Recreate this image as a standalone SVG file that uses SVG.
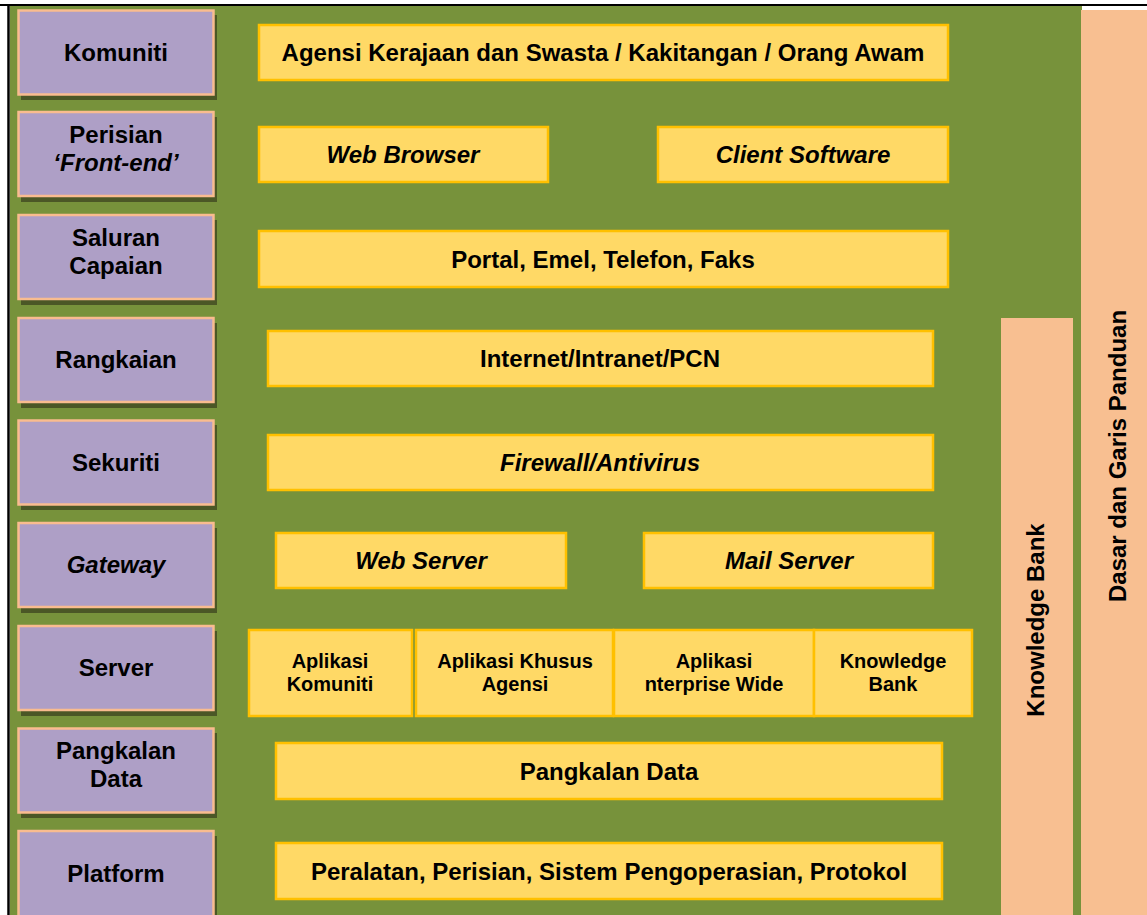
<svg xmlns="http://www.w3.org/2000/svg" width="1147" height="915" viewBox="0 0 1147 915">
<style>
.t{font-family:"Liberation Sans",Arial,sans-serif;font-weight:bold;fill:#000;text-anchor:middle}
.L{font-size:24px}
.S{font-size:20px}
.i{font-style:italic}
.lab{fill:#ae9fc6;stroke:#f9bc8f;stroke-width:2.5}
.sh{fill:#4b5726}
.y{fill:#ffd966;stroke:#ffc000;stroke-width:2.5}
.pe{fill:#f8bf91}
</style>
<rect x="0" y="0" width="1147" height="915" fill="#ffffff"/>
<rect x="10" y="6" width="1072" height="909" fill="#77923b"/>
<line x1="0" y1="5" x2="1147" y2="5" stroke="#000" stroke-width="2"/>
<line x1="8.5" y1="5" x2="8.5" y2="915" stroke="#000" stroke-width="2.5"/>

<g id="dasar">
<rect class="pe" x="1081" y="10" width="66" height="905"/>
<text class="t L" transform="translate(1126,456) rotate(-90)">Dasar dan Garis Panduan</text>
</g>
<g id="kbank-side">
<rect class="pe" x="1001" y="318" width="72" height="597"/>
<text class="t L" transform="translate(1044,620) rotate(-90)">Knowledge Bank</text>
</g>

<g id="lbl-komuniti">
<rect class="sh" x="21" y="15" width="196" height="85"/>
<rect class="lab" x="18.5" y="10.5" width="195" height="84"/>
<text class="t L" x="116" y="61">Komuniti</text>
</g>
<g id="lbl-perisian">
<rect class="sh" x="21" y="117" width="196" height="85"/>
<rect class="lab" x="18.5" y="112" width="195" height="84"/>
<text class="t L" x="116" y="143">Perisian</text>
<text class="t L i" x="116" y="171">‘Front-end’</text>
</g>
<g id="lbl-saluran">
<rect class="sh" x="21" y="220" width="196" height="85"/>
<rect class="lab" x="18.5" y="215" width="195" height="84"/>
<text class="t L" x="116" y="246">Saluran</text>
<text class="t L" x="116" y="274">Capaian</text>
</g>
<g id="lbl-rangkaian">
<rect class="sh" x="21" y="323" width="196" height="85"/>
<rect class="lab" x="18.5" y="318" width="195" height="84"/>
<text class="t L" x="116" y="368">Rangkaian</text>
</g>
<g id="lbl-sekuriti">
<rect class="sh" x="21" y="425" width="196" height="85"/>
<rect class="lab" x="18.5" y="420.5" width="195" height="84"/>
<text class="t L" x="116" y="471">Sekuriti</text>
</g>
<g id="lbl-gateway">
<rect class="sh" x="21" y="528" width="196" height="85"/>
<rect class="lab" x="18.5" y="523" width="195" height="84"/>
<text class="t L i" x="116" y="573">Gateway</text>
</g>
<g id="lbl-server">
<rect class="sh" x="21" y="631" width="196" height="85"/>
<rect class="lab" x="18.5" y="626" width="195" height="84"/>
<text class="t L" x="116" y="676">Server</text>
</g>
<g id="lbl-pangkalan">
<rect class="sh" x="21" y="733" width="196" height="85"/>
<rect class="lab" x="18.5" y="728.5" width="195" height="84"/>
<text class="t L" x="116" y="759">Pangkalan</text>
<text class="t L" x="116" y="787">Data</text>
</g>
<g id="lbl-platform">
<rect class="sh" x="21" y="836" width="196" height="85"/>
<rect class="lab" x="18.5" y="831" width="195" height="95"/>
<text class="t L" x="116" y="882">Platform</text>
</g>

<g id="b-komuniti">
<rect class="y" x="259" y="25" width="689" height="55"/>
<text class="t L" x="603" y="61">Agensi Kerajaan dan Swasta / Kakitangan / Orang Awam</text>
</g>
<g id="b-webbrowser">
<rect class="y" x="259" y="127" width="289" height="55"/>
<text class="t L i" x="403" y="163">Web Browser</text>
</g>
<g id="b-client">
<rect class="y" x="658" y="127" width="290" height="55"/>
<text class="t L i" x="803" y="163">Client Software</text>
</g>
<g id="b-portal">
<rect class="y" x="259" y="231" width="689" height="56"/>
<text class="t L" x="603" y="268">Portal, Emel, Telefon, Faks</text>
</g>
<g id="b-internet">
<rect class="y" x="268" y="331" width="665" height="55"/>
<text class="t L" x="600" y="367">Internet/Intranet/PCN</text>
</g>
<g id="b-firewall">
<rect class="y" x="268" y="435" width="665" height="55"/>
<text class="t L i" x="600" y="471">Firewall/Antivirus</text>
</g>
<g id="b-webserver">
<rect class="y" x="276" y="533" width="290" height="55"/>
<text class="t L i" x="421" y="569">Web Server</text>
</g>
<g id="b-mailserver">
<rect class="y" x="644" y="533" width="289" height="55"/>
<text class="t L i" x="789" y="569">Mail Server</text>
</g>
<g id="b-apkomuniti">
<rect class="y" x="249" y="630" width="163" height="86"/>
<text class="t S" x="330" y="668">Aplikasi</text>
<text class="t S" x="330" y="691">Komuniti</text>
</g>
<g id="b-apkhusus">
<rect class="y" x="416" y="630" width="197" height="86"/>
<text class="t S" x="515" y="668">Aplikasi Khusus</text>
<text class="t S" x="515" y="691">Agensi</text>
</g>
<g id="b-apenterprise">
<rect class="y" x="614" y="630" width="200" height="86"/>
<text class="t S" x="714" y="668">Aplikasi</text>
<text class="t S" x="714" y="691">nterprise Wide</text>
</g>
<g id="b-kbank">
<rect class="y" x="814" y="630" width="158" height="86"/>
<text class="t S" x="893" y="668">Knowledge</text>
<text class="t S" x="893" y="691">Bank</text>
</g>
<g id="b-pangkalan">
<rect class="y" x="276" y="743" width="666" height="56"/>
<text class="t L" x="609" y="780">Pangkalan Data</text>
</g>
<g id="b-platform">
<rect class="y" x="276" y="843" width="666" height="56"/>
<text class="t L" x="609" y="880">Peralatan, Perisian, Sistem Pengoperasian, Protokol</text>
</g>
<g id="connectors"></g>
</svg>
